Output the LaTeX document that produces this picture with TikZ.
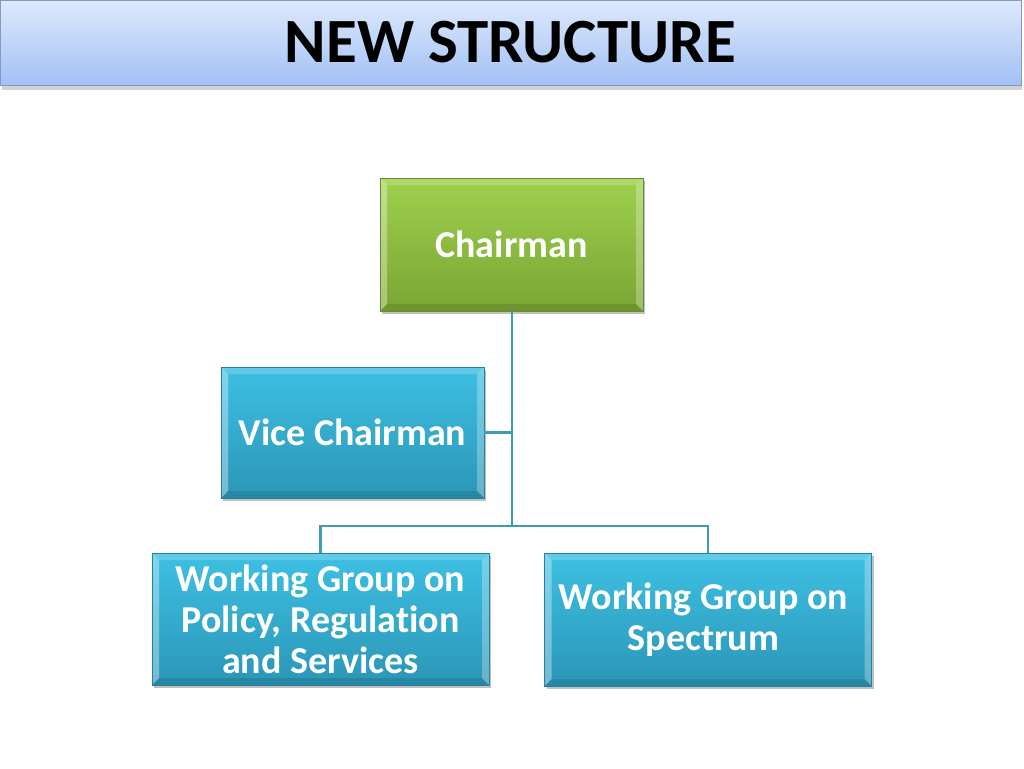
\documentclass[tikz,border=0pt]{standalone}
\usepackage{fontspec}
\setmainfont[RawFeature={-liga}]{Carlito}
\usetikzlibrary{shadows,calc}
\definecolor{grtop}{HTML}{9FD04E}
\definecolor{grbot}{HTML}{7AA533}
\definecolor{bltop}{HTML}{3DC0E3}
\definecolor{blbot}{HTML}{2B96B7}
\definecolor{lnk}{HTML}{3F9DB1}
\definecolor{ttop}{HTML}{DEE9FC}
\definecolor{tbot}{HTML}{A2C1F5}
\tikzset{
  bevel/.style={path picture={
    \coordinate (pNW) at (path picture bounding box.north west);
    \coordinate (pNE) at (path picture bounding box.north east);
    \coordinate (pSW) at (path picture bounding box.south west);
    \coordinate (pSE) at (path picture bounding box.south east);
    \fill[white,opacity=.35] (pNW) -- (pSW) -- ($(pSW)+(7pt,7pt)$) -- ($(pNW)+(7pt,-7pt)$) -- cycle;
    \fill[white,opacity=.18] (pNW) -- (pNE) -- ($(pNE)+(-7pt,-7pt)$) -- ($(pNW)+(7pt,-7pt)$) -- cycle;
    \fill[white,opacity=.28] (pNE) -- (pSE) -- ($(pSE)+(-7pt,7pt)$) -- ($(pNE)+(-7pt,-7pt)$) -- cycle;
    \fill[black,opacity=.10] (pSW) -- (pSE) -- ($(pSE)+(-7pt,7pt)$) -- ($(pSW)+(7pt,7pt)$) -- cycle;
  }},
  box/.style={rectangle, inner sep=0pt, align=center, text=white,
    font=\bfseries\fontsize{38}{41}\selectfont,
    drop shadow={shadow xshift=2pt, shadow yshift=-3pt, opacity=.4, fill=black!60},
    bevel},
  greenbox/.style={box, top color=grtop, bottom color=grbot, draw=grbot!85!black, line width=.6pt},
  bluebox/.style={box, top color=bltop, bottom color=blbot, draw=blbot!85!black, line width=.6pt},
  link/.style={draw=lnk, line width=2.8pt},
}
\begin{document}
\begin{tikzpicture}[x=1pt,y=-1pt]
\useasboundingbox (0,0) rectangle (1024,768);
\fill[white] (0,0) rectangle (1024,768);
% title bar
\fill[black,opacity=.18] (2,86) rectangle (1022,90);
\node[rectangle, inner sep=0pt, minimum width=1021pt, minimum height=85pt,
  top color=ttop, bottom color=tbot, draw=tbot!80!black, line width=.6pt,
  font=\bfseries\fontsize{63}{63}\selectfont, text=black] (title) at (510.5,42.5) {\raisebox{-2pt}{NEW STRUCTURE}};
% boxes
\node[greenbox, minimum width=263pt, minimum height=133pt] (chair) at (511.5,244.5) {Chairman};
\node[bluebox, minimum width=263pt, minimum height=131pt] (vice) at (352.5,432.5) {Vice Chairman};
\node[bluebox, minimum width=337pt, minimum height=132pt] (wgp) at (320.5,619) {Working Group on\\Policy, Regulation\\and Services};
\node[bluebox, minimum width=327pt, minimum height=133pt] (wgs) at (708,619.5) {\hspace*{-9pt}Working Group on\\\hspace*{-9pt}Spectrum};
% connectors
\coordinate (bus) at (512,526);
\draw[link] (chair.south -| bus) -- (bus);
\draw[link] (vice.east) -- (vice.east -| bus);
\draw[link] (wgp.north) |- (bus) -| (wgs.north);
\end{tikzpicture}
\end{document}
